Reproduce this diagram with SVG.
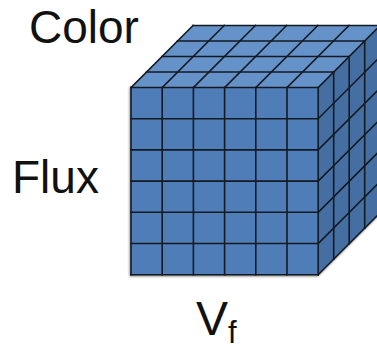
<svg xmlns="http://www.w3.org/2000/svg" width="377" height="351" viewBox="0 0 377 351">
<defs>
<style>
.lbl{font-family:"Liberation Sans",Arial,sans-serif;fill:#111;}
.grid{stroke:#141a22;stroke-width:1.6;fill:none;stroke-linecap:square;}
</style>
<filter id="sh" x="-10%" y="-10%" width="120%" height="120%"><feGaussianBlur stdDeviation="1.2"/></filter>
</defs>
<rect width="377" height="351" fill="#fff"/>
<g id="shadow">
<polygon points="129.5,87 129.5,276.5 318,276.5 380,214.5 380,87" fill="#8a8a8a" filter="url(#sh)"/>
</g>
<g id="cube">
<polygon id="top" points="131,87.5 318.2,87.5 380.2,25.5 193,25.5" fill="#6592c9"/>
<polygon id="right" points="318.2,87.5 380.2,25.5 380.2,212.7 318.2,274.7" fill="#456fa3"/>
<rect id="front" x="131" y="87.5" width="187.2" height="187.2" fill="#4f7db7"/>
<g class="grid">
<path d="M131,87.5V274.7M162.2,87.5V274.7M193.4,87.5V274.7M224.6,87.5V274.7M255.8,87.5V274.7M287,87.5V274.7M318.2,87.5V274.7"/>
<path d="M131,87.5H318.2M131,118.7H318.2M131,149.9H318.2M131,181.1H318.2M131,212.3H318.2M131,243.5H318.2M131,274.7H318.2"/>
<path d="M146.5,72H333.7M162,56.5H349.2M177.5,41H364.7M193,25.5H380.2"/>
<path d="M131,87.5L193,25.5M162.2,87.5L224.2,25.5M193.4,87.5L255.4,25.5M224.6,87.5L286.6,25.5M255.8,87.5L317.8,25.5M287,87.5L349,25.5M318.2,87.5L380.2,25.5"/>
<path d="M333.7,72V259.2M349.2,56.5V243.7M364.7,41V228.2"/>
<path d="M318.2,118.7L380.2,56.7M318.2,149.9L380.2,87.9M318.2,181.1L380.2,119.1M318.2,212.3L380.2,150.3M318.2,243.5L380.2,181.5M318.2,274.7L380.2,212.7"/>
</g>
</g>
<g id="labels">
<text class="lbl" x="29" y="43" font-size="46">Color</text>
<text class="lbl" x="12" y="193" font-size="46">Flux</text>
<text class="lbl" x="196" y="335" font-size="48">V<tspan font-size="31" dy="8">f</tspan></text>
</g>
</svg>
